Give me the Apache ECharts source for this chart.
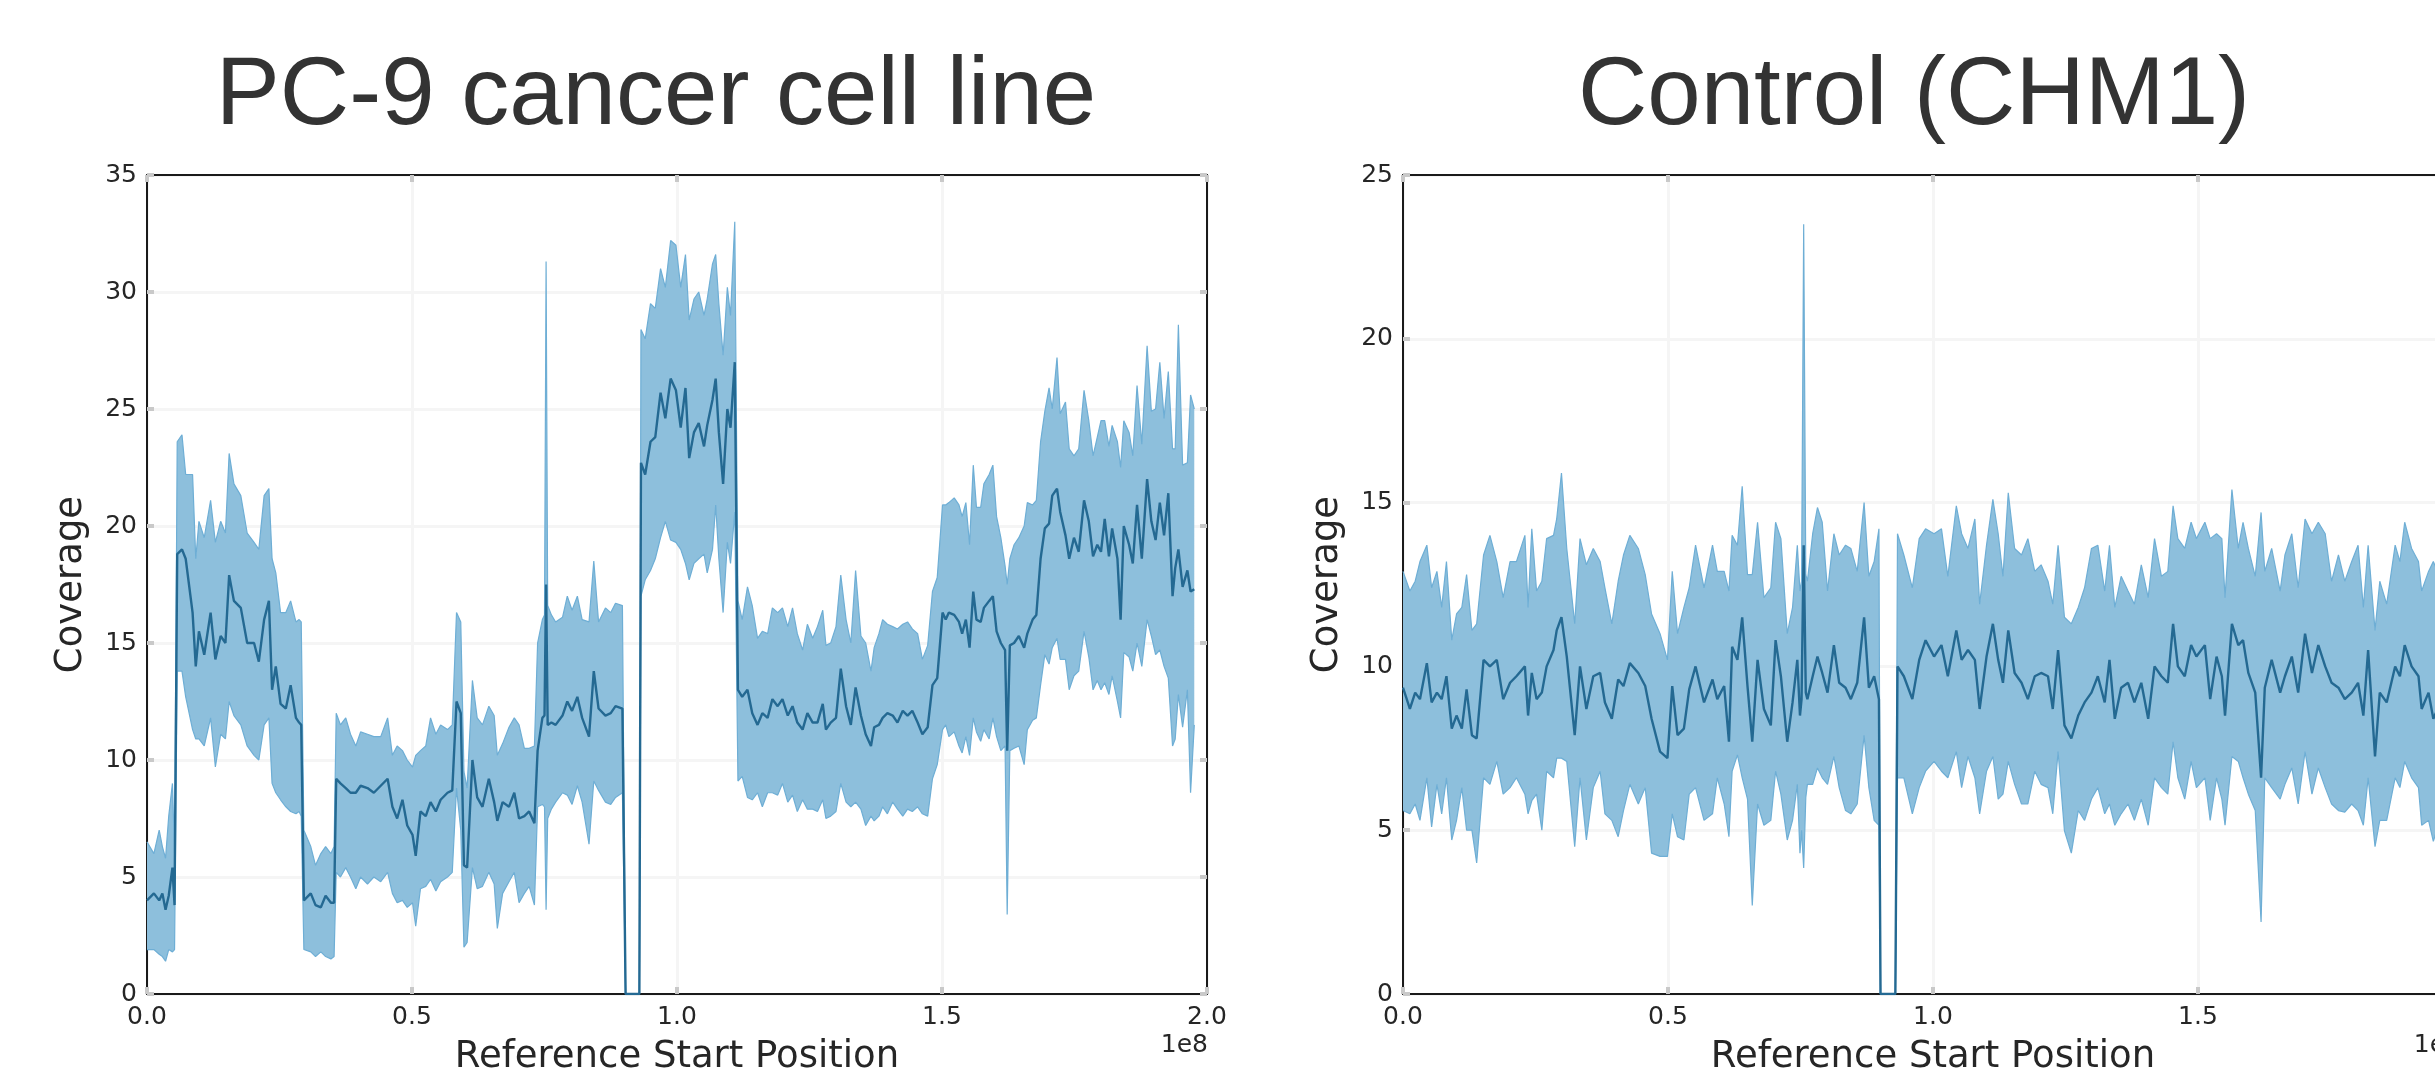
<!DOCTYPE html>
<html>
<head>
<meta charset="utf-8">
<script src="https://cdn.jsdelivr.net/npm/echarts@6/dist/echarts.min.js"></script>
<style>
html,body{margin:0;padding:0;background:#fff;}
#c{width:2435px;height:1080px;}
</style>
</head>
<body>
<div id="c"></div>
<script>
// ---------- Text ----------
const pcTitle = 'PC-9 cancer cell line';
const chmTitle = 'Control (CHM1)';
const xAxisTitle = 'Reference Start Position';
const yAxisTitle = 'Coverage';
const xOffsetText = '1e8';
const xTickLabels = ['0.0', '0.5', '1.0', '1.5', '2.0'];
const pcYMax = 35;
const chmYMax = 25;

// ---------- PC-9 data (positions in Mb; coverage mean and band edges) ----------
const pcPos = [
  0,1.3,2.3,2.9,3.5,4.1,4.8,5.2,
  5.7,6.6,7.3,8.6,9.2,9.8,10.8,12.0,12.9,13.9,14.8,15.5,16.4,17.7,18.9,20.2,21.1,22.1,23.0,23.6,24.3,25.2,26.2,27.1,28.1,28.7,29.1,
  29.6,30.9,31.8,32.8,33.7,34.7,35.3,
  35.7,36.5,37.5,38.4,39.4,40.3,41.6,42.8,44.1,45.4,46.3,47.2,48.2,49.1,50.1,50.7,51.6,52.6,53.5,54.5,55.4,56.7,57.6,58.4,59.2,59.8,60.4,61.4,62.3,63.3,64.5,65.5,66.1,67.1,68.3,69.3,70.2,71.2,72.1,73.1,
  73.7,74.6,75.0,75.3,75.6,76.3,77.1,78.4,79.3,80.2,81.2,82.1,83.4,84.3,85.2,86.5,87.5,88.4,89.7,
  90.3,92.9,
  93.2,94.0,95.0,95.9,96.9,97.8,98.8,99.8,100.7,101.6,102.3,103.2,104.1,105.1,105.7,106.7,107.3,107.9,108.7,109.5,110.1,110.9,
  111.5,112.3,113.3,114.2,115.2,116.1,117.1,118.0,119.0,119.9,120.9,121.8,122.7,123.7,124.6,125.6,126.5,127.5,128.1,129.0,130.0,130.9,131.9,132.8,133.7,134.7,135.6,136.6,137.2,138.1,138.8,139.7,140.7,141.6,142.6,143.5,144.4,145.4,146.3,147.3,148.2,149.1,
  150.1,150.7,151.3,152.3,153.2,153.8,154.5,155.2,155.9,156.5,157.3,157.9,158.9,159.6,160.3,161.1,161.9,162.3,162.8,163.6,164.5,165.5,166.1,167.1,167.8,168.6,169.4,170.2,170.8,171.7,172.3,173.3,174.0,174.9,175.8,176.8,177.7,178.5,179.3,180.0,180.7,181.5,182.1,183.1,183.7,184.3,185.3,186.0,186.8,187.7,188.7,189.5,190.3,191.1,191.9,192.7,193.5,194.0,194.6,195.4,196.3,196.9,197.6
];
const pcMean = [
  4.0,4.3,4.0,4.3,3.6,4.2,5.4,3.8,
  18.8,19.0,18.6,16.3,14.0,15.5,14.5,16.3,14.3,15.3,15.0,17.9,16.8,16.5,15.0,15.0,14.2,16.0,16.8,13.0,14.0,12.4,12.2,13.2,11.8,11.6,11.5,
  4.0,4.3,3.8,3.7,4.2,3.9,3.9,
  9.2,9.0,8.8,8.6,8.6,8.9,8.8,8.6,8.9,9.2,8.0,7.5,8.3,7.2,6.8,5.9,7.8,7.6,8.2,7.8,8.3,8.6,8.7,12.5,12.0,5.5,5.4,10.0,8.4,8.0,9.2,8.2,7.4,8.2,8.0,8.6,7.5,7.6,7.8,7.3,
  10.4,11.8,11.9,17.5,11.5,11.6,11.5,11.9,12.5,12.1,12.7,11.8,11.0,13.8,12.2,11.9,12.0,12.3,12.2,
  0,0,
  22.7,22.2,23.6,23.8,25.7,24.6,26.3,25.8,24.2,25.9,22.9,24.0,24.4,23.4,24.3,25.4,26.3,24.0,21.8,25.0,24.2,27.0,
  13.0,12.7,13.0,12.0,11.5,12.0,11.8,12.6,12.3,12.6,11.9,12.3,11.6,11.3,12.0,11.6,11.6,12.4,11.3,11.6,11.8,13.9,12.3,11.5,13.1,11.9,11.1,10.6,11.4,11.5,11.8,12.0,11.9,11.6,12.1,11.9,12.1,11.6,11.1,11.4,13.2,13.5,
  16.3,16.0,16.3,16.2,15.9,15.4,16.0,14.8,17.2,16.0,15.9,16.5,16.8,17.0,15.5,15.0,14.7,10.4,14.9,15.0,15.3,14.8,15.4,16.0,16.2,18.6,19.9,20.1,21.3,21.6,20.6,19.6,18.6,19.5,18.9,21.1,20.2,18.7,19.2,18.9,20.3,18.7,19.9,18.6,16.0,20.0,19.2,18.4,20.9,18.6,22.0,20.2,19.4,21.0,19.6,21.4,17.0,18.2,19.0,17.4,18.1,17.2,17.3
];
const pcUpper = [
  6.5,6.0,7.0,6.3,5.8,7.6,9.0,6.0,
  23.6,23.9,22.2,22.2,18.6,20.2,19.5,21.1,19.3,20.2,19.7,23.1,21.8,21.3,19.7,19.3,19.0,21.3,21.6,18.6,18.0,16.3,16.3,16.8,15.9,16.0,15.9,
  7.0,6.3,5.5,6.0,6.3,6.0,6.3,
  12.0,11.5,11.8,11.1,10.6,11.2,11.1,11.0,11.0,11.8,10.2,10.6,10.4,10.0,9.7,10.2,10.4,10.6,11.8,11.1,11.5,11.3,11.5,16.3,15.9,9.5,8.8,13.4,11.8,11.5,12.3,11.9,10.2,10.7,11.4,11.8,11.5,10.5,10.5,10.6,
  15.0,16.0,16.2,31.3,16.6,16.2,15.9,16.1,17.0,16.4,17.0,16.0,15.9,18.5,15.9,16.5,16.3,16.7,16.6,
  0,0,
  28.4,28.0,29.5,29.3,31.0,30.2,32.2,32.0,30.2,31.6,28.8,29.7,30.0,29.0,29.7,31.2,31.6,29.5,27.3,30.2,29.0,33.0,
  16.8,16.0,17.4,16.6,15.2,15.5,15.4,16.5,16.3,16.5,15.7,16.5,15.4,14.7,15.8,15.2,15.7,16.4,14.9,15.0,15.7,17.9,16.0,15.0,18.1,15.3,15.0,13.8,14.8,15.4,16.0,15.8,15.7,15.6,15.8,15.9,15.6,15.4,14.3,14.9,17.2,17.8,
  20.9,20.9,21.0,21.2,20.9,20.4,21.0,19.2,22.6,20.8,20.8,21.8,22.2,22.6,20.4,19.5,18.3,17.5,18.6,19.2,19.5,20.0,21.0,20.9,21.1,23.6,24.9,25.9,25.0,27.2,24.8,25.3,23.3,23.0,23.3,25.8,24.5,23.0,23.8,24.5,24.5,23.4,24.3,23.6,22.5,24.5,24.0,23.0,26.0,23.5,27.7,24.9,25.0,27.0,24.6,26.6,23.3,23.3,28.6,22.6,22.7,25.6,25.0
];
const pcLower = [
  1.9,1.9,1.7,1.6,1.4,1.9,1.8,1.9,
  13.8,13.8,12.7,11.3,10.9,10.9,10.6,11.8,9.7,11.1,10.9,12.5,11.9,11.5,10.6,10.2,10.0,11.5,11.8,9.0,8.6,8.3,8.0,7.8,7.7,7.8,7.6,
  1.9,1.8,1.6,1.8,1.6,1.5,1.6,
  5.2,5.0,5.4,5.0,4.5,5.0,4.7,5.0,4.8,5.2,4.3,3.9,4.0,3.7,3.9,2.9,4.5,4.6,4.9,4.4,4.8,5.0,5.2,8.8,7.0,2.0,2.2,5.4,4.5,4.6,5.2,4.7,2.8,4.3,4.8,5.2,3.9,4.3,4.6,3.8,
  8.0,8.1,8.0,3.6,7.5,7.9,8.2,8.6,8.5,8.1,8.9,8.2,6.4,9.1,8.7,8.2,8.1,8.4,8.6,
  0,0,
  17.0,17.7,18.1,18.6,19.5,20.2,19.4,19.3,19.0,18.4,17.7,18.4,18.6,18.8,18.0,19.0,20.9,18.6,16.3,19.3,18.4,20.6,
  9.1,9.3,8.4,8.3,8.6,8.0,8.6,8.6,8.5,9.0,8.2,8.5,7.8,8.3,7.9,7.9,7.8,8.3,7.5,7.6,7.8,9.0,8.2,8.0,8.2,7.9,7.2,7.6,7.4,7.6,8.0,7.7,8.2,7.9,7.6,7.9,7.8,8.0,7.7,7.6,9.2,9.8,
  11.3,11.5,11.0,11.2,10.6,10.3,11.0,10.2,11.8,11.2,10.8,11.3,10.9,11.8,11.0,10.4,10.6,3.4,10.4,10.5,10.6,9.8,11.3,11.7,11.8,13.2,14.5,14.1,14.8,15.2,14.3,14.3,13.0,13.6,13.8,15.5,14.4,13.0,13.4,13.0,13.3,12.8,13.6,12.5,11.8,14.6,14.4,13.8,15.0,14.0,16.0,15.3,14.5,14.7,14.0,13.5,10.6,10.9,12.8,11.4,13.0,8.6,11.5
];

// ---------- CHM1 control data ----------
const chmPos = [
  0,1.3,2.3,3.2,4.5,5.4,6.4,7.3,8.2,9.2,
  10.1,11.1,12.0,13.0,13.9,15.2,16.4,17.7,18.9,20.2,
  21.4,23.0,23.6,24.3,25.2,26.2,27.1,28.4,29.0,29.9,
  30.9,32.4,33.4,34.6,35.9,37.2,38.1,39.4,40.6,41.6,
  42.8,44.4,45.7,46.9,48.5,49.9,50.8,51.8,53.0,54.0,
  55.2,56.8,58.4,59.3,60.6,61.5,62.1,63.1,64.0,65.0,
  65.9,66.9,68.1,69.4,70.3,71.3,72.5,73.5,74.4,74.9,
  75.2,75.6,76.0,76.3,77.3,78.2,79.1,80.1,81.3,82.3,
  83.5,84.5,85.7,87.0,87.9,88.9,89.8,90.1,92.9,93.3,
  94.5,96.1,97.4,98.6,100.2,101.6,102.8,104.4,105.4,106.6,
  107.9,108.8,110.1,111.3,112.3,113.2,114.2,115.4,116.7,117.9,
  119.2,120.4,121.7,122.6,123.6,124.8,126.1,127.4,128.6,129.9,
  131.1,132.4,133.3,134.3,135.5,136.8,138.0,139.3,140.6,141.8,
  143.1,144.3,145.3,146.2,147.5,148.7,149.7,151.3,152.3,153.5,
  154.5,155.1,156.4,157.6,158.5,159.5,160.8,161.9,162.6,163.9,
  165.5,166.4,167.7,168.9,170.2,171.5,172.7,174.0,175.2,176.5,
  177.7,179.0,180.2,181.2,182.1,183.4,184.3,185.6,187.2,188.1,
  189.0,190.3,191.6,192.2,193.5,194.4,196.0,197.6
];
const chmMean = [
  9.35,8.7,9.2,9.0,10.1,8.9,9.2,9.0,9.7,8.1,
  8.5,8.1,9.3,7.9,7.8,10.2,10.0,10.2,9.0,9.5,
  9.7,10.0,8.5,9.8,9.0,9.2,10.0,10.5,11.1,11.5,
  10.3,7.9,10.0,8.7,9.7,9.8,8.9,8.4,9.6,9.4,
  10.1,9.8,9.4,8.4,7.4,7.2,9.4,7.9,8.1,9.3,
  10.0,8.9,9.6,9.0,9.4,7.7,10.6,10.2,11.5,9.4,
  7.7,10.2,8.7,8.2,10.8,9.7,7.7,8.9,10.2,8.5,
  9.0,13.7,9.2,9.0,9.7,10.3,9.8,9.2,10.65,9.5,
  9.35,9.0,9.5,11.5,9.35,9.7,9.0,0,0,10.0,
  9.7,9.0,10.2,10.8,10.3,10.65,9.7,11.1,10.2,10.5,
  10.2,8.7,10.3,11.3,10.2,9.5,11.1,9.8,9.5,9.0,
  9.7,9.8,9.7,8.7,10.5,8.2,7.8,8.5,8.9,9.2,
  9.7,8.9,10.2,8.4,9.35,9.5,8.9,9.5,8.4,10.0,
  9.7,9.5,11.3,10.0,9.7,10.65,10.3,10.65,9.0,10.3,
  9.7,8.5,11.3,10.65,10.8,9.8,9.2,6.6,9.35,10.2,
  9.2,9.7,10.3,9.2,11.0,9.8,10.65,10.0,9.5,9.35,
  9.0,9.2,9.5,8.5,10.5,7.25,9.2,8.9,10.0,9.7,
  10.65,10.0,9.7,8.7,9.2,8.4,9.0,9.4
];
const chmUpper = [
  12.9,12.3,12.6,13.2,13.7,12.4,12.9,11.8,13.2,10.8,
  11.6,11.8,12.8,11.1,11.3,13.4,14.0,13.2,12.1,13.2,
  13.2,14.0,11.8,14.2,12.3,12.6,13.9,14.0,14.5,15.9,
  13.6,11.3,13.9,13.1,13.6,13.2,12.4,11.3,12.6,13.4,
  14.0,13.6,12.8,11.6,11.0,10.2,12.9,11.0,11.8,12.4,
  13.7,12.4,13.7,12.9,12.9,12.3,14.0,13.7,15.5,12.8,
  12.8,14.4,12.1,12.4,14.4,13.9,11.0,11.8,13.7,12.3,
  12.6,23.5,12.8,12.6,14.05,14.85,14.4,12.3,14.05,13.4,
  13.7,13.6,12.9,15.0,12.75,13.2,14.2,0,0,14.05,
  13.4,12.4,13.9,14.2,14.05,14.2,12.75,14.9,14.05,13.6,
  14.5,11.9,13.7,15.1,14.05,12.75,15.3,13.6,13.4,13.9,
  12.9,13.1,12.6,11.9,13.7,11.5,11.3,11.8,12.4,13.6,
  13.7,12.3,13.7,11.8,12.75,12.3,11.9,13.1,12.1,13.9,
  12.75,12.9,14.9,13.9,13.6,14.4,13.9,14.4,13.9,14.05,
  13.9,12.1,15.4,13.6,14.4,13.6,12.75,14.7,12.9,13.6,
  12.3,13.4,14.05,12.4,14.5,14.05,14.4,14.05,12.6,13.4,
  12.6,13.2,13.7,11.8,13.7,11.1,12.6,11.9,13.7,13.2,
  14.4,13.6,13.2,12.3,12.9,13.2,12.6,13.0
];
const chmLower = [
  5.6,5.5,5.8,5.3,6.6,5.1,6.4,5.5,6.6,4.7,
  5.3,6.3,5.0,5.0,4.0,6.6,6.4,7.1,6.1,6.3,
  6.6,6.1,5.5,5.9,6.1,5.0,6.8,6.6,7.2,7.2,
  7.1,4.5,6.6,4.7,6.3,6.8,5.5,5.3,4.8,5.6,
  6.4,5.8,6.3,4.3,4.2,4.2,5.5,4.8,4.7,6.1,
  6.3,5.3,5.5,6.6,5.8,4.8,6.8,7.3,6.6,5.95,
  2.7,5.8,5.15,5.3,6.8,6.1,4.7,5.3,6.4,4.3,
  5.0,3.85,6.0,6.4,6.4,6.9,6.6,6.4,7.25,6.3,
  5.6,5.5,5.8,7.9,6.3,5.3,5.15,0,0,6.6,
  6.6,5.5,6.3,6.8,7.1,6.8,6.6,7.4,6.3,7.25,
  6.6,5.5,6.8,7.25,5.95,6.1,7.1,6.4,5.8,5.8,
  6.8,6.4,6.3,5.5,7.4,4.98,4.3,5.6,5.3,5.95,
  6.3,5.5,5.8,5.15,5.5,5.8,5.3,5.95,5.15,6.6,
  6.3,6.1,7.7,6.6,5.95,7.1,6.3,6.6,5.3,6.6,
  5.95,5.15,7.25,7.1,6.6,6.1,5.6,2.2,6.6,6.3,
  5.95,6.4,6.9,5.8,7.4,6.1,6.9,6.3,5.8,5.6,
  5.55,5.8,5.6,5.15,6.6,4.5,5.3,5.3,6.6,6.3,
  7.1,6.6,6.3,5.15,5.3,4.66,5.5,5.8
];

// ---------- Build library data ----------
function toPairs(pos, vals) { return pos.map(function (p, i) { return [p * 1e6, vals[i]]; }); }
function toBand(pos, lo, up) { return pos.map(function (p, i) { return [p * 1e6, lo[i], up[i]]; }); }

const FILL = '#8dbfdc';
const EDGE = '#6eaed5';
const MEAN = '#246992';
const AXIS = '#1a1a1a';
const TICK = '#c9c9c9';
const GRIDC = '#f5f5f5';
const TXT = '#262626';
const FONT = 'DejaVu Sans';

const grids = [
  { left: 147, top: 175, width: 1060, height: 819, containLabel: false, outerBoundsMode: 'none' },
  { left: 1403, top: 175, width: 1060, height: 819, containLabel: false, outerBoundsMode: 'none' }
];

function xAxes(g) {
  return [
    {
      type: 'value', gridIndex: g, min: 0, max: 2e8, interval: 5e7, position: 'bottom',
      axisLine: { show: true, onZero: false, lineStyle: { color: AXIS, width: 2 } },
      axisTick: { show: true, inside: true, length: 7, lineStyle: { color: TICK, width: 4 } },
      axisLabel: {
        show: true, margin: 11, fontFamily: FONT, fontSize: 25, color: TXT,
        showMinLabel: true, showMaxLabel: true,
        formatter: function (v) { return xTickLabels[Math.round(v / 5e7)]; }
      },
      splitLine: { show: true, lineStyle: { color: GRIDC, width: 3 } },
      name: xAxisTitle, nameLocation: 'middle', nameGap: 45,
      nameTextStyle: { fontFamily: FONT, fontSize: 37, color: TXT }
    },
    {
      type: 'value', gridIndex: g, min: 0, max: 2e8, interval: 5e7, position: 'top',
      axisLine: { show: true, onZero: false, lineStyle: { color: AXIS, width: 2 } },
      axisTick: { show: true, inside: true, length: 7, lineStyle: { color: TICK, width: 4 } },
      axisLabel: { show: false }, splitLine: { show: false }
    }
  ];
}
function yAxes(g, ymax) {
  return [
    {
      type: 'value', gridIndex: g, min: 0, max: ymax, interval: 5, position: 'left',
      axisLine: { show: true, onZero: false, lineStyle: { color: AXIS, width: 2 } },
      axisTick: { show: true, inside: true, length: 7, lineStyle: { color: TICK, width: 4 } },
      axisLabel: { show: true, margin: 10, fontFamily: FONT, fontSize: 25, color: TXT },
      splitLine: { show: true, lineStyle: { color: GRIDC, width: 3 } },
      name: yAxisTitle, nameLocation: 'middle', nameGap: 57,
      nameTextStyle: { fontFamily: FONT, fontSize: 37, color: TXT }
    },
    {
      type: 'value', gridIndex: g, min: 0, max: ymax, interval: 5, position: 'right',
      axisLine: { show: true, onZero: false, lineStyle: { color: AXIS, width: 2 } },
      axisTick: { show: true, inside: true, length: 7, lineStyle: { color: TICK, width: 4 } },
      axisLabel: { show: false }, splitLine: { show: false }
    }
  ];
}

function bandSeries(band, axisIdx) {
  return {
    type: 'custom', coordinateSystem: 'cartesian2d',
    xAxisIndex: axisIdx, yAxisIndex: axisIdx, data: band,
    encode: { x: 0, y: [1, 2] }, silent: true, z: 1,
    renderItem: function (params, api) {
      if (params.dataIndex !== 0) return null;
      const top = band.map(function (d) { return api.coord([d[0], d[2]]); });
      const bot = band.slice().reverse().map(function (d) { return api.coord([d[0], d[1]]); });
      return { type: 'polygon', shape: { points: top.concat(bot) }, style: { fill: FILL, stroke: null } };
    }
  };
}
function lineSeries(data, axisIdx, color, width, z) {
  return {
    type: 'line', xAxisIndex: axisIdx, yAxisIndex: axisIdx, data: data,
    symbol: 'none', showSymbol: false, silent: true, z: z,
    lineStyle: { color: color, width: width }
  };
}

const option = {
  animation: false,
  backgroundColor: '#ffffff',
  grid: grids,
  xAxis: xAxes(0).concat(xAxes(1)),
  yAxis: yAxes(0, pcYMax).concat(yAxes(1, chmYMax)),
  series: [
    bandSeries(toBand(pcPos, pcLower, pcUpper), 0),
    lineSeries(toPairs(pcPos, pcUpper), 0, EDGE, 1.2, 3),
    lineSeries(toPairs(pcPos, pcLower), 0, EDGE, 1.2, 3),
    lineSeries(toPairs(pcPos, pcMean), 0, MEAN, 2.4, 5),
    bandSeries(toBand(chmPos, chmLower, chmUpper), 2),
    lineSeries(toPairs(chmPos, chmUpper), 2, EDGE, 1.2, 3),
    lineSeries(toPairs(chmPos, chmLower), 2, EDGE, 1.2, 3),
    lineSeries(toPairs(chmPos, chmMean), 2, MEAN, 2.4, 5)
  ],
  graphic: [
    { type: 'text', x: 656, y: 98, silent: true,
      style: { text: pcTitle, fontSize: 96, fontFamily: 'Liberation Sans', fill: '#333333', align: 'center', verticalAlign: 'middle' } },
    { type: 'text', x: 1914, y: 98, silent: true,
      style: { text: chmTitle, fontSize: 96, fontFamily: 'Liberation Sans', fill: '#333333', align: 'center', verticalAlign: 'middle' } },
    { type: 'text', x: 1208, y: 1045, silent: true,
      style: { text: xOffsetText, fontSize: 25, fontFamily: FONT, fill: TXT, align: 'right', verticalAlign: 'middle' } },
    { type: 'text', x: 2461, y: 1045, silent: true,
      style: { text: xOffsetText, fontSize: 25, fontFamily: FONT, fill: TXT, align: 'right', verticalAlign: 'middle' } }
  ]
};

const chart = echarts.init(document.getElementById('c'), null, { renderer: 'canvas', width: 2435, height: 1080 });
chart.setOption(option);
</script>
</body>
</html>
